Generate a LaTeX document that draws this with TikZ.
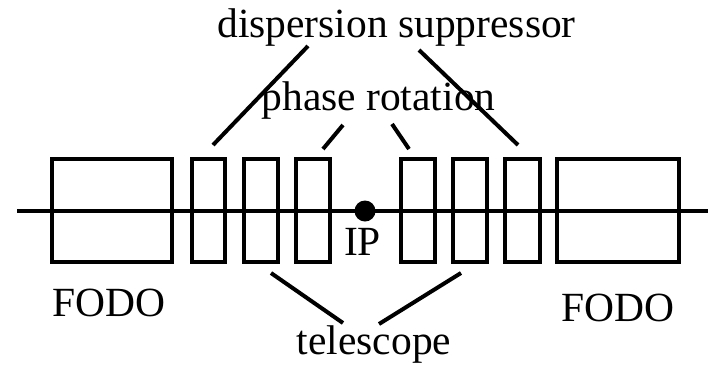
\documentclass[tikz,border=0pt]{standalone}
\usepackage{fontspec}
\setmainfont{Liberation Serif}
\begin{document}
\begin{tikzpicture}[x=1bp,y=-1bp,
  mag/.style={draw, line width=4bp, inner sep=0pt, minimum height=103bp},
  lbl/.style={inner sep=0pt, anchor=base, font=\fontsize{41.5bp}{48bp}\selectfont},
  conn/.style={line width=4bp}]
\useasboundingbox (0,0) rectangle (708,366);
% beam line
\coordinate (bl) at (17,211);
\coordinate (br) at (708,211);
\draw[conn] (bl) -- (br);
% magnets
\node[mag, minimum width=120bp] (f1) at (112,210.5) {};
\node[mag, minimum width=33bp] (b2) at (208.5,210.5) {};
\node[mag, minimum width=34bp] (b3) at (261,210.5) {};
\node[mag, minimum width=34bp] (b4) at (313,210.5) {};
\node[mag, minimum width=34bp] (b5) at (418,210.5) {};
\node[mag, minimum width=34bp] (b6) at (470,210.5) {};
\node[mag, minimum width=35bp] (b7) at (522.5,210.5) {};
\node[mag, minimum width=122bp] (f2) at (618,210.5) {};
% IP
\node[circle, fill=black, minimum size=21bp, inner sep=0pt] (ip) at (365,211) {};
\node[lbl] (iplbl) at (362.5,255) {IP};
% labels
\node[lbl] (ds) at (396.5,37) {dispersion suppressor};
\node[lbl] (pr) at (378.5,110) {phase rotation};
\node[lbl] (tel) at (374,354) {telescope};
\node[lbl] (fodo1) at (108.5,316) {FODO};
\node[lbl] (fodo2) at (618,321) {FODO};
% connector ends
\coordinate (ds1a) at (308,46);  \coordinate (ds1b) at (213,145);
\coordinate (ds2a) at (419,50);  \coordinate (ds2b) at (518,145);
\coordinate (pr1a) at (343,125); \coordinate (pr1b) at (323,149);
\coordinate (pr2a) at (392,124); \coordinate (pr2b) at (409,149);
\coordinate (te1a) at (343,323); \coordinate (te1b) at (271,273);
\coordinate (te2a) at (379,324); \coordinate (te2b) at (461,273);
\draw[conn] (ds1a) -- (ds1b);
\draw[conn] (ds2a) -- (ds2b);
\draw[conn] (pr1a) -- (pr1b);
\draw[conn] (pr2a) -- (pr2b);
\draw[conn] (te1a) -- (te1b);
\draw[conn] (te2a) -- (te2b);
\end{tikzpicture}
\end{document}
